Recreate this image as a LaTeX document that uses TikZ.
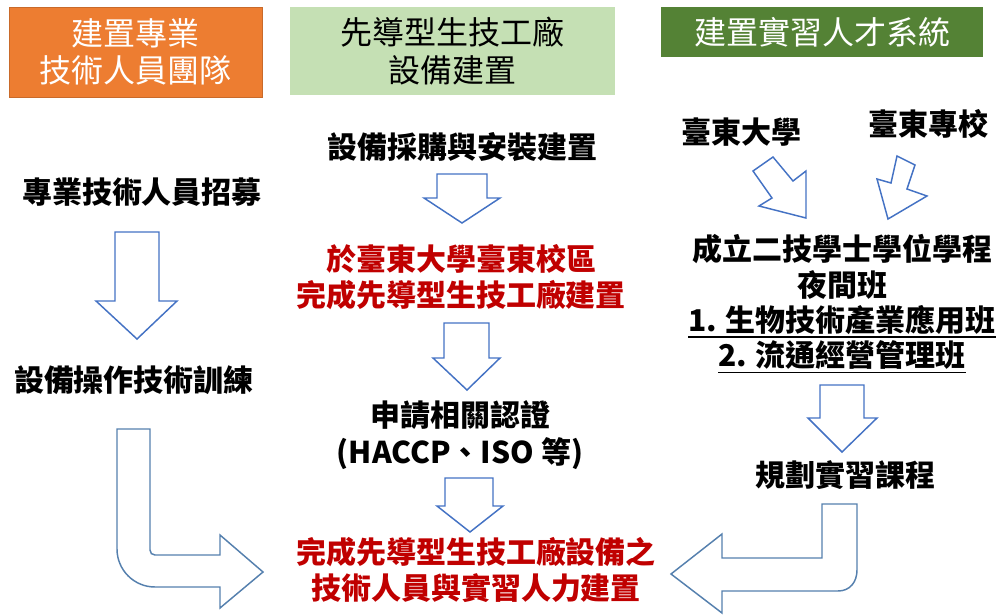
\documentclass[tikz,border=0pt]{standalone}
\usepackage{fontspec}
\setmainfont{Noto Sans CJK TC}
\definecolor{hdrorange}{HTML}{ED7D31}
\definecolor{hdrlight}{HTML}{C5E0B4}
\definecolor{hdrdark}{HTML}{548235}
\definecolor{arrblue}{HTML}{4472C4}
\definecolor{bentblue}{HTML}{5580AE}
\definecolor{txtred}{HTML}{C00000}
\newcommand\myul[1]{\setbox0\hbox{#1}\rlap{\rule[-5pt]{\wd0}{1.4pt}}\box0}
\tikzset{
  hdr/.style={inner sep=0pt, align=center, font=\fontsize{24}{28}\selectfont},
  body/.style={inner sep=0pt, align=center, font=\fontsize{22.5}{27.5}\selectfont\bfseries},
  redbody/.style={body, text=txtred},
  blockarrow/.style={draw=arrblue, line width=1.1pt, fill=white, line join=miter},
  bentarrow/.style={draw=bentblue, line width=1.1pt, fill=white, line join=miter}
}
\begin{document}
\begin{tikzpicture}[x=0.75pt,y=-0.75pt]
\useasboundingbox (0,0) rectangle (997,615);
% headers
\node[hdr, fill=hdrorange, draw=hdrorange!85!black, line width=0.4pt, text=white,
      minimum width=189.75pt, minimum height=67.5pt] (h1) at (136,52) {建置專業\\技術人員團隊};
\node[hdr, fill=hdrlight, text=black,
      minimum width=243.75pt, minimum height=66pt] (h2) at (452.5,51) {先導型生技工廠\\設備建置};
\node[hdr, fill=hdrdark, text=white,
      minimum width=241.5pt, minimum height=37.5pt] (h3) at (822,32) {建置實習人才系統};
% left column
\node[body] (l1) at (142,192) {專業技術人員招募};
\node[body] (l2) at (134,380) {設備操作技術訓練};
% middle column
\node[body] (m1) at (462,147) {設備採購與安裝建置};
\node[redbody] (m2) at (461,277) {於臺東大學臺東校區\\完成先導型生技工廠建置};
\node[body] (m3) at (460,435) {申請相關認證\\(HACCP、ISO 等)};
\node[redbody] (m4) at (476,570) {完成先導型生技工廠設備之\\技術人員與實習人力建置};
% right column
\node[body] (r1) at (741,132) {臺東大學};
\node[body] (r2) at (928,124) {臺東專校};
\node[body, font=\fontsize{22.5}{26.5}\selectfont\bfseries] (r3) at (842,304)
  {成立二技學士學位學程\\夜間班\\\myul{1. 生物技術產業應用班}\\\myul{2. 流通經營管理班}};
\node[body] (r4) at (845,475) {規劃實習課程};
% straight block arrows
\draw[blockarrow] (115,232) -- (159,232) -- (159,301) -- (177,301) -- (137,339) -- (96,301) -- (115,301) -- cycle;
\draw[blockarrow] (437,174) -- (487,174) -- (487,198) -- (500,198) -- (462,223) -- (424,198) -- (437,198) -- cycle;
\draw[blockarrow] (444,323) -- (489,323) -- (489,358) -- (500,358) -- (467,390) -- (433,358) -- (444,358) -- cycle;
\draw[blockarrow] (445,478) -- (493,478) -- (493,506) -- (503,506) -- (470,532) -- (437,506) -- (445,506) -- cycle;
\draw[blockarrow] (820,385) -- (864,385) -- (864,418) -- (877,418) -- (842,452) -- (808,418) -- (820,418) -- cycle;
% diagonal arrows
\draw[blockarrow] (753,171) -- (773,157) -- (793,181) -- (806,171) -- (806,218) -- (759,206) -- (772,198) -- cycle;
\draw[blockarrow] (897,156) -- (915,165) -- (907,189) -- (927,196) -- (888,219) -- (877,179) -- (891,183) -- cycle;
% bent arrows
\draw[bentarrow] (117,429) -- (150,429) -- (150,550) .. controls (150,553) and (152,555) .. (155,555)
  -- (220,555) -- (220,535) -- (263,572) -- (220,608) -- (220,587) -- (155,587)
  .. controls (134,587) and (117,570) .. (117,549) -- cycle;
\draw[bentarrow] (822,504) -- (857,504) -- (857,570) .. controls (857,582) and (850,591) .. (838,591)
  -- (722,591) -- (722,613) -- (671,574) -- (722,534) -- (722,558) -- (822,558) -- cycle;
\end{tikzpicture}
\end{document}
